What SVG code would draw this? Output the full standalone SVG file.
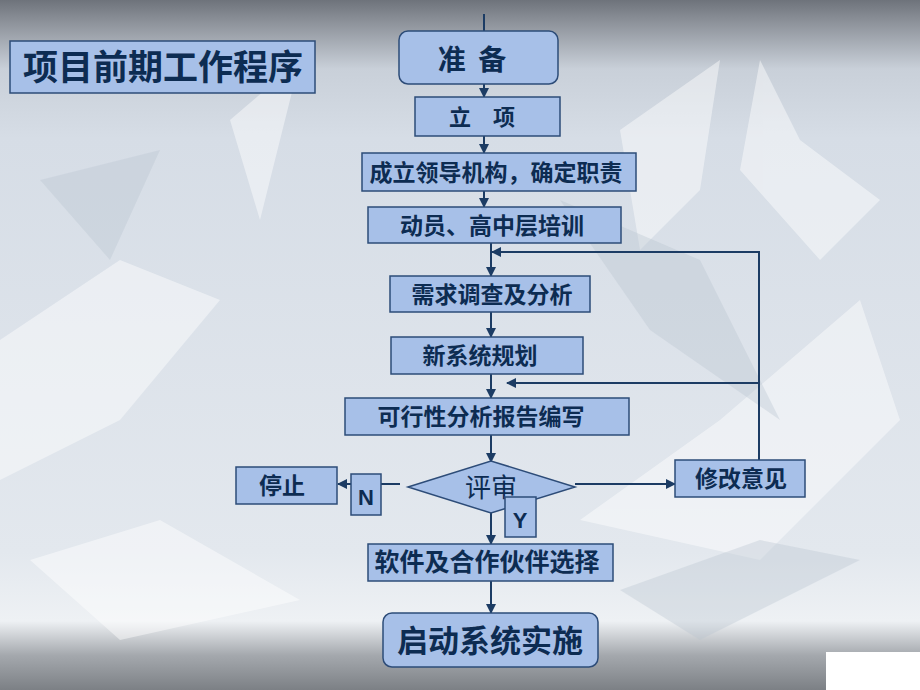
<svg xmlns="http://www.w3.org/2000/svg" width="920" height="690" viewBox="0 0 920 690">
<defs>
<linearGradient id="bg" x1="0" y1="0" x2="0" y2="1">
<stop offset="0" stop-color="#6e737b"/>
<stop offset="0.03" stop-color="#8b9098"/>
<stop offset="0.1" stop-color="#c9d0d9"/>
<stop offset="0.2" stop-color="#d6dde6"/>
<stop offset="0.8" stop-color="#e3e8ee"/>
<stop offset="0.9" stop-color="#eef1f4"/>
<stop offset="0.95" stop-color="#a4a8ad"/>
<stop offset="1" stop-color="#7c8085"/>
</linearGradient>
<marker id="ah" viewBox="0 0 10 10" refX="9" refY="5" markerWidth="5" markerHeight="5" orient="auto">
<path d="M0,0 L10,5 L0,10 z" fill="#1c3c64"/>
</marker>
<style>
.box{fill:#a7c0e8;stroke:#2d4c78;stroke-width:1.5}
.t{font-family:"Noto Sans CJK SC","Noto Sans CJK JP",sans-serif;fill:#0d2c52;text-anchor:middle;font-weight:bold}
.c{stroke:#1c3c64;stroke-width:2;fill:none}
</style>
</defs>
<rect width="920" height="690" fill="url(#bg)"/>
<g opacity="0.45" fill="#ffffff">
<polygon points="620,130 720,60 700,190 640,250"/>
<polygon points="760,60 800,140 880,200 820,260 740,170"/>
<polygon points="0,340 120,260 220,300 120,420 0,480"/>
<polygon points="580,520 720,420 860,300 900,420 760,560"/>
<polygon points="230,120 300,60 260,220"/>
<polygon points="30,560 160,520 300,600 120,640"/>
</g>
<g opacity="0.35" fill="#b8c2cf">
<polygon points="560,200 700,260 780,420 650,330"/>
<polygon points="40,180 160,150 110,260"/>
<polygon points="620,590 760,540 860,560 700,640"/>
</g>
<rect x="826" y="652" width="94" height="38" fill="#ffffff"/>

<g id="connectors">
<line class="c" x1="484" y1="14" x2="484" y2="31"/>
<line class="c" x1="484" y1="84" x2="484" y2="97" marker-end="url(#ah)"/>
<line class="c" x1="484" y1="136" x2="484" y2="153" marker-end="url(#ah)"/>
<line class="c" x1="484" y1="191" x2="484" y2="207" marker-end="url(#ah)"/>
<line class="c" x1="491" y1="243" x2="491" y2="276" marker-end="url(#ah)"/>
<line class="c" x1="491" y1="312" x2="491" y2="337" marker-end="url(#ah)"/>
<line class="c" x1="491" y1="374" x2="491" y2="398" marker-end="url(#ah)"/>
<line class="c" x1="491" y1="435" x2="491" y2="462" marker-end="url(#ah)"/>
<line class="c" x1="491" y1="513" x2="491" y2="544" marker-end="url(#ah)"/>
<line class="c" x1="491" y1="581" x2="491" y2="613" marker-end="url(#ah)"/>
<line class="c" x1="400" y1="484" x2="338" y2="484" marker-end="url(#ah)"/>
<line class="c" x1="575" y1="484" x2="675" y2="484" marker-end="url(#ah)"/>
<polyline class="c" points="759,460 759,252 492,252" marker-end="url(#ah)"/>
<line class="c" x1="759" y1="383" x2="507" y2="383" marker-end="url(#ah)"/>
</g>

<g id="title"><rect class="box" x="10" y="41" width="305" height="52"/><text class="t" x="163" y="80" font-size="35">项目前期工作程序</text></g>
<g id="prep"><rect class="box" x="399" y="31" width="159" height="53" rx="9"/><text class="t" x="472" y="70" font-size="28" xml:space="preserve">准  备</text></g>
<g id="lixiang"><rect class="box" x="415" y="97" width="145" height="39"/><text class="t" x="482" y="125" font-size="22">立　项</text></g>
<g id="lingdao"><rect class="box" x="362" y="153" width="274" height="38"/><text class="t" x="496" y="181" font-size="23">成立领导机构，确定职责</text></g>
<g id="dongyuan"><rect class="box" x="368" y="207" width="253" height="36"/><text class="t" x="492" y="234" font-size="23">动员、高中层培训</text></g>
<g id="xuqiu"><rect class="box" x="390" y="276" width="200" height="36"/><text class="t" x="492" y="303" font-size="23">需求调查及分析</text></g>
<g id="guihua"><rect class="box" x="391" y="337" width="192" height="37"/><text class="t" x="480" y="364" font-size="23">新系统规划</text></g>
<g id="kexing"><rect class="box" x="345" y="398" width="284" height="37"/><text class="t" x="481" y="425" font-size="23">可行性分析报告编写</text></g>
<g id="pingshen"><polygon class="box" points="408,487 491,461 575,487 491,513"/><text x="491" y="497" font-size="26" text-anchor="middle" fill="#0d2c52" font-family="'Noto Sans CJK SC',sans-serif">评审</text></g>
<g id="tingzhi"><rect class="box" x="236" y="467" width="101" height="37"/><text class="t" x="282" y="494" font-size="23">停止</text></g>
<g id="n"><rect class="box" x="351" y="474" width="30" height="41"/><text x="366" y="505" font-size="22" font-weight="bold" text-anchor="middle" fill="#0d2c52" font-family="'Liberation Sans',sans-serif">N</text></g>
<g id="xiugai"><rect class="box" x="675" y="460" width="130" height="37"/><text class="t" x="741" y="487" font-size="23">修改意见</text></g>
<g id="y"><rect class="box" x="505" y="497" width="31" height="40"/><text x="520" y="528" font-size="22" font-weight="bold" text-anchor="middle" fill="#0d2c52" font-family="'Liberation Sans',sans-serif">Y</text></g>
<g id="ruanjian"><rect class="box" x="368" y="544" width="245" height="37"/><text class="t" x="487" y="571" font-size="25">软件及合作伙伴选择</text></g>
<g id="qidong"><rect class="box" x="383" y="613" width="215" height="54" rx="9"/><text class="t" x="490" y="652" font-size="31">启动系统实施</text></g>
</svg>
